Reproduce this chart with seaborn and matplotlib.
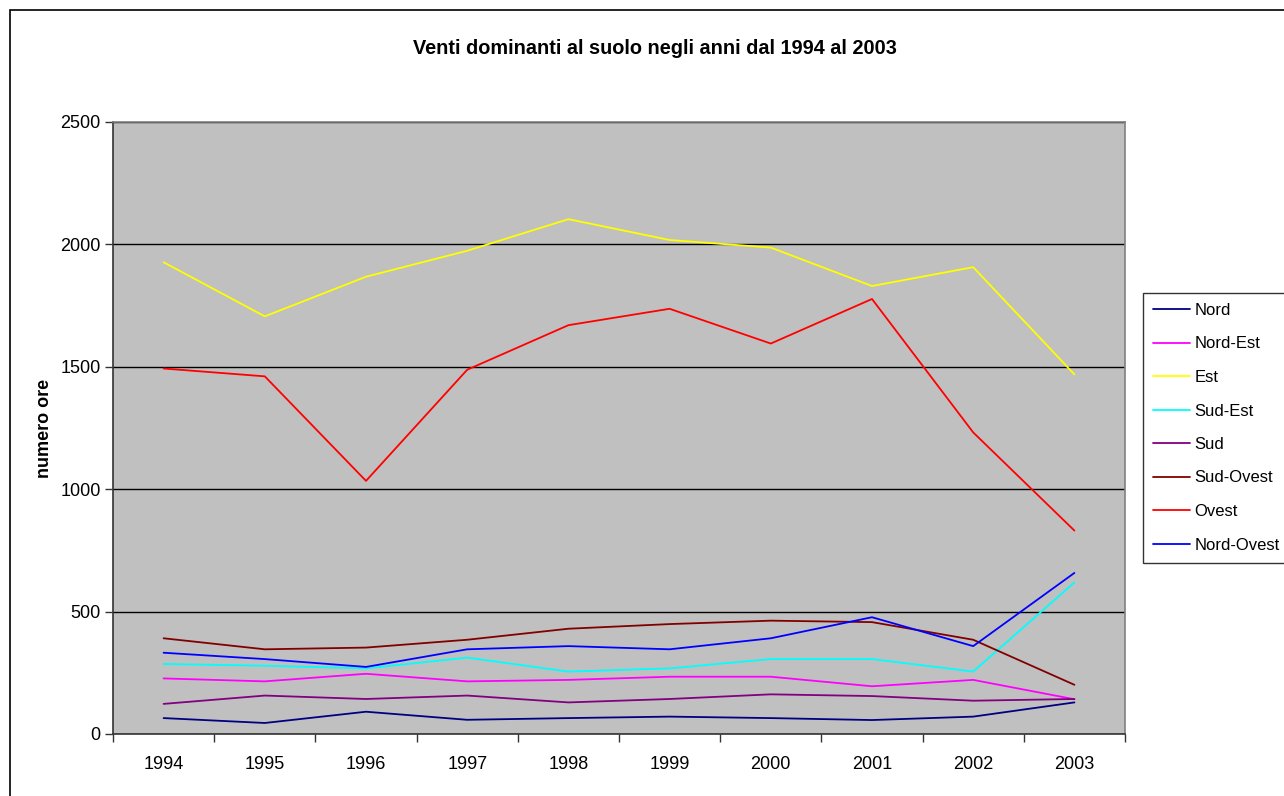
import matplotlib
matplotlib.use("Agg")
import matplotlib.pyplot as plt
import matplotlib.patches as mpatches
from matplotlib.ticker import MultipleLocator, FixedLocator
import seaborn as sns
import pandas as pd

years = [1994, 1995, 1996, 1997, 1998, 1999, 2000, 2001, 2002, 2003]
nord = [65, 45, 91, 58, 65, 71, 65, 57, 71, 129]
nord_est = [227, 215, 246, 215, 221, 234, 234, 195, 221, 142]
est = [1927, 1706, 1868, 1974, 2103, 2018, 1987, 1830, 1907, 1469]
sud_est = [286, 279, 268, 312, 255, 268, 306, 306, 255, 619]
sud = [123, 157, 143, 157, 129, 143, 162, 155, 136, 143]
sud_ovest = [391, 346, 353, 385, 430, 449, 463, 457, 385, 201]
ovest = [1493, 1461, 1034, 1488, 1670, 1737, 1595, 1777, 1232, 831]
nord_ovest = [332, 306, 274, 346, 359, 346, 391, 477, 359, 658]

series_names = ["Nord", "Nord-Est", "Est", "Sud-Est", "Sud", "Sud-Ovest", "Ovest", "Nord-Ovest"]
series_values = [nord, nord_est, est, sud_est, sud, sud_ovest, ovest, nord_ovest]
colors = ["#000080", "#FF00FF", "#FFFF00", "#00FFFF", "#800080", "#800000", "#FF0000", "#0000FF"]

title = "Venti dominanti al suolo negli anni dal 1994 al 2003"
ylabel = "numero ore"

rows = []
for name, vals in zip(series_names, series_values):
    for y, v in zip(years, vals):
        rows.append({"anno": y, "ore": v, "direzione": name})
df = pd.DataFrame(rows)

sns.set_theme(style="white")
plt.rcParams["font.family"] = ["Liberation Sans", "DejaVu Sans"]
plt.rcParams["text.color"] = "black"
plt.rcParams["xtick.color"] = "black"
plt.rcParams["ytick.color"] = "black"

fig = plt.figure(figsize=(12.84, 7.96), dpi=100)
ax = fig.add_axes([113/1284, 1-734/796, (1125-113)/1284, (734-122)/796])
ax.set_facecolor("#C0C0C0")

sns.lineplot(data=df, x="anno", y="ore", hue="direzione", hue_order=series_names,
             palette=dict(zip(series_names, colors)), linewidth=1.3, ax=ax, legend=False)

ax.set_xlim(1993.5, 2003.5)
ax.set_ylim(0, 2500)
ax.yaxis.set_major_locator(MultipleLocator(500))
ax.set_xticks(years)
ax.set_xticklabels([str(y) for y in years])
ax.xaxis.set_minor_locator(FixedLocator([y + 0.5 for y in [1993] + years]))
ax.tick_params(axis="x", which="major", length=0, pad=16, labelsize=13, labelcolor="black")
ax.tick_params(axis="x", which="minor", length=6, width=1, color="#333333", direction="out", bottom=True)
ax.tick_params(axis="y", which="major", length=6, width=1, color="#333333", direction="out",
               left=True, labelsize=13, labelcolor="black", pad=3)
ax.grid(axis="y", color="black", linewidth=1)
ax.set_axisbelow(True)

for s in ["top", "right"]:
    ax.spines[s].set_color("#808080")
    ax.spines[s].set_linewidth(1.2)
for s in ["left", "bottom"]:
    ax.spines[s].set_color("#333333")
    ax.spines[s].set_linewidth(1.2)

ax.set_xlabel("")
ax.set_ylabel("")
fig.text(45/1284, 1-428/796, ylabel, rotation=90, ha="center", va="center",
         fontsize=13, fontweight="bold", color="black")
fig.text(655/1284, 1-48/796, title, ha="center", va="center", fontsize=14.3,
         fontweight="bold", color="black")

handles = [plt.Line2D([], [], color=c, linewidth=1.3) for c in colors]
leg = fig.legend(handles, series_names, loc="upper left",
                 bbox_to_anchor=(1143/1284, 1-293/796), frameon=True, fancybox=False,
                 fontsize=12, handlelength=2.2, handletextpad=0.3, labelspacing=1.11,
                 borderpad=0.6, borderaxespad=0)
leg.get_frame().set_edgecolor("black")
leg.get_frame().set_linewidth(1)
leg.get_frame().set_facecolor("white")
for t in leg.get_texts():
    t.set_color("black")

border = mpatches.Rectangle((10/1284, -0.1), 1.2, (786/796) + 0.1, transform=fig.transFigure,
                            fill=False, edgecolor="black", linewidth=1.2)
fig.patches.append(border)

fig.savefig("out.png", dpi=100)
